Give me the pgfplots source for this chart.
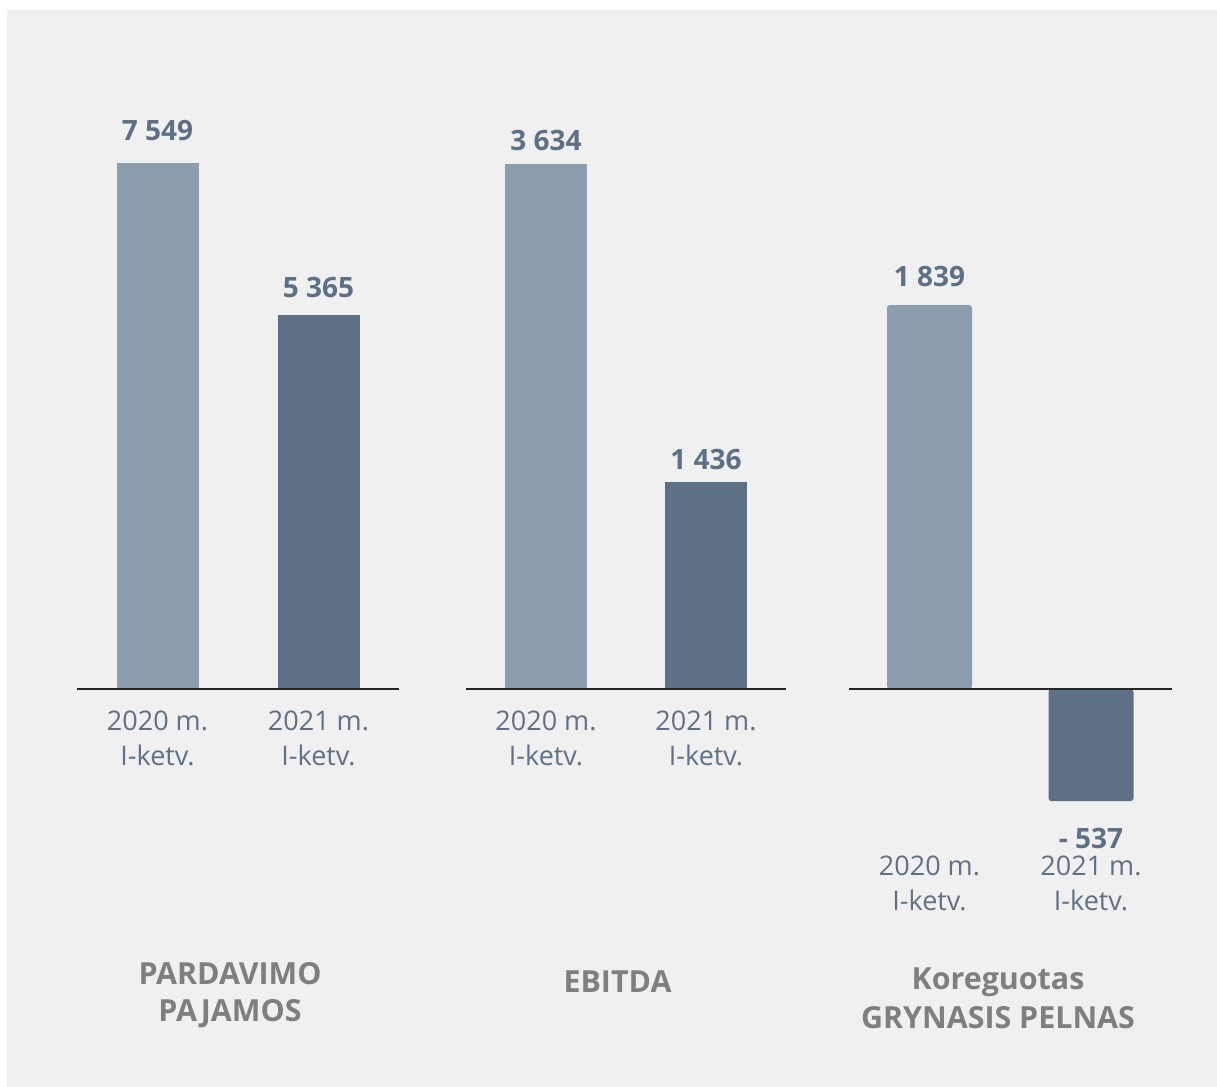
\documentclass[border=0pt]{standalone}
\usepackage{pgfplots}
\pgfplotsset{compat=1.18}
\usepackage{fontspec}
\setmainfont{Open Sans}
\IfFontExistsTF{Open Sans SemiBold}{\newfontfamily\semib{Open Sans SemiBold}}{\newcommand\semib{\bfseries}}
\definecolor{bgc}{HTML}{F0F0F0}
\definecolor{lightc}{HTML}{8C9DAD}
\definecolor{darkc}{HTML}{5E7085}
\definecolor{labelc}{HTML}{5F7185}
\definecolor{titlec}{HTML}{7F7F7F}
\definecolor{axisc}{HTML}{262626}
\pgfplotsset{
  panel/.style={
    scale only axis, clip=false,
    axis line style={draw=none},
    ytick=\empty, xtick={0,1},
    major tick length=0pt,
    xmin=-0.5, xmax=1.5,
    ybar, bar shift=0pt,
    xticklabels={{2020 m.\\I-ketv.},{2021 m.\\I-ketv.}},
    xticklabel style={font=\fontsize{13.5}{17.5}\selectfont, text=labelc, align=center, inner sep=0pt, anchor=north, yshift=-10.8pt},
  },
  pos/.style={nodes near coords, point meta=explicit symbolic,
    every node near coord/.append style={font=\bfseries\fontsize{14}{17}\selectfont, text=darkc, inner sep=0pt, anchor=south, yshift=#1}},
  neg/.style={nodes near coords, point meta=explicit symbolic,
    every node near coord/.append style={font=\bfseries\fontsize{14}{17}\selectfont, text=darkc, inner sep=0pt, anchor=north, yshift=-13.3pt}},
}
\begin{document}
\begin{tikzpicture}
\useasboundingbox (0,0) rectangle (608.5pt,543.5pt);
\fill[white] (0,0) rectangle (608.5pt,543.5pt);
\fill[bgc] (3.5pt,0) rectangle (608.5pt,538.5pt);

% Panel 1
\begin{axis}[panel, at={(38.5pt,199pt)}, anchor=south west,
  width=161pt, height=278.7pt, ymin=0, ymax=8000]
\addplot[fill=lightc, draw=none, bar width=41pt, pos=11pt] coordinates {(0,7549) [7 549]};
\addplot[fill=darkc, draw=none, bar width=41pt, pos=8.5pt] coordinates {(1,5365) [5 365]};
\draw[line width=1pt, axisc] (axis cs:-0.5,0) -- (axis cs:1.5,0);
\end{axis}

% Panel 2
\begin{axis}[panel, at={(233pt,199pt)}, anchor=south west,
  width=160pt, height=288.9pt, ymin=0, ymax=4000]
\addplot[fill=lightc, draw=none, bar width=41pt, pos=6.5pt] coordinates {(0,3634) [3 634]};
\addplot[fill=darkc, draw=none, bar width=41pt, pos=5.5pt] coordinates {(1,1436) [1 436]};
\draw[line width=1pt, axisc] (axis cs:-0.5,0) -- (axis cs:1.5,0);
\end{axis}

% Panel 3
\begin{axis}[panel, at={(424.375pt,126.5pt)}, anchor=south west,
  width=161.5pt, height=281.3pt, ymin=-694, ymax=2000]
\addplot[fill=lightc, draw=none, bar width=42.5pt, rounded corners=1.5pt, pos=9pt] coordinates {(0,1839) [1 839]};
\addplot[fill=darkc, draw=none, bar width=42.5pt, rounded corners=1.5pt, neg] coordinates {(1,-537) [- 537]};
\draw[line width=1pt, axisc] (axis cs:-0.5,0) -- (axis cs:1.5,0);
\end{axis}

% Titles
\begin{scope}[every node/.style={font=\semib\fontsize{15.2}{19}\selectfont, text=titlec, anchor=base, inner sep=0pt}]
\node at (115pt,51pt) {PARDAVIMO};
\node at (115pt,32.5pt) {PAJAMOS};
\node at (308.75pt,47pt) {EBITDA};
\node at (499pt,48.5pt) {Koreguotas};
\node at (499pt,29pt) {GRYNASIS PELNAS};
\end{scope}
\end{tikzpicture}
\end{document}
